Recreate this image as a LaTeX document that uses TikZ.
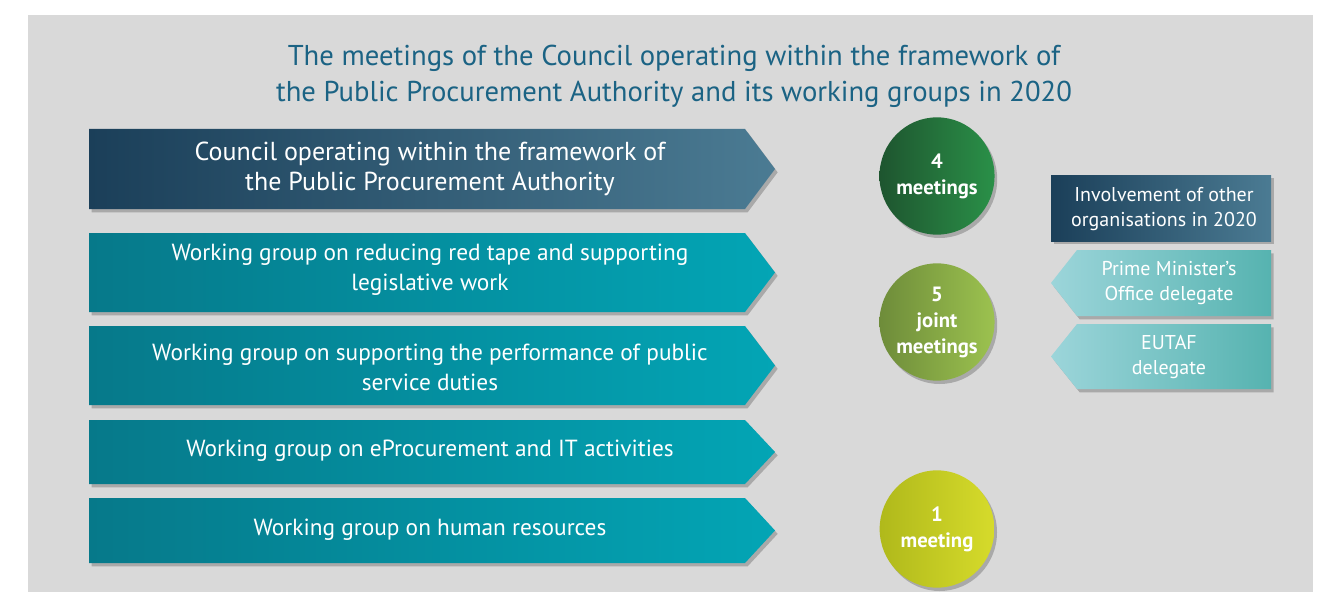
\documentclass[tikz,border=0pt]{standalone}
\usepackage{fontspec}
\setmainfont{PT Sans}
\usetikzlibrary{shapes.geometric,shadows}

\definecolor{bggray}{HTML}{D9D9D9}
\definecolor{titleblue}{HTML}{1B6384}
\definecolor{councilL}{HTML}{1B3F59}
\definecolor{councilR}{HTML}{4B7B93}
\definecolor{groupL}{HTML}{06798A}
\definecolor{groupR}{HTML}{03A5B5}
\definecolor{fourL}{HTML}{1E552F}
\definecolor{fourR}{HTML}{2A9048}
\definecolor{fiveL}{HTML}{6E8C3A}
\definecolor{fiveR}{HTML}{9CC24F}
\definecolor{oneL}{HTML}{B0B91B}
\definecolor{oneR}{HTML}{D6DB2B}
\definecolor{delegL}{HTML}{9CD5DA}
\definecolor{delegR}{HTML}{56B3B0}

\tikzset{
  softshadow/.style={drop shadow={shadow xshift=2pt,shadow yshift=-2.5pt,opacity=0.22,fill=black}},
  grouptext/.style={text=white,align=center,font=\fontsize{17.5}{22.5}\selectfont},
  meetball/.style={ellipse,minimum width=86pt,minimum height=88pt,inner sep=0pt,
    text=white,align=center,font=\bfseries\fontsize{15.5}{19.5}\selectfont,softshadow},
  sidetext/.style={text=white,align=center,font=\fontsize{15}{19}\selectfont}
}

\begin{document}
\begin{tikzpicture}[x=0.75pt,y=-0.75pt]

  % --- page and background ---
  \useasboundingbox (0,0) rectangle (1325,592);
  \fill[white] (0,0) rectangle (1325,592);
  \fill[bggray] (28,15) rectangle (1313,592);

  % --- title ---
  \node[text=titleblue,align=center,font=\fontsize{21.5}{27}\selectfont] (title) at (674,76)
    {The meetings of the Council operating within the framework of\\
     the Public Procurement Authority and its working groups in 2020};

  % --- council ---
  \path[softshadow,left color=councilL,right color=councilR]
    (89,129) -- (745,129) -- (775,169) -- (745,209) -- (89,209) -- cycle;
  \node[grouptext,font=\fontsize{19.5}{23}\selectfont] (council) at (430,169)
    {Council operating within the framework of\\the Public Procurement Authority};

  % --- working groups ---
  \path[softshadow,left color=groupL,right color=groupR]
    (89,233) -- (745,233) -- (775,272.5) -- (745,312) -- (89,312) -- cycle;
  \node[grouptext] (redtape) at (430,270)
    {Working group on reducing red tape and supporting\\legislative work};

  \path[softshadow,left color=groupL,right color=groupR]
    (89,326) -- (745,326) -- (775,365.5) -- (745,405) -- (89,405) -- cycle;
  \node[grouptext] (duties) at (430,367)
    {Working group on supporting the performance of public\\service duties};

  \path[softshadow,left color=groupL,right color=groupR]
    (89,420) -- (745,420) -- (775,452) -- (745,484) -- (89,484) -- cycle;
  \node[grouptext] (eproc) at (430,451)
    {Working group on eProcurement and IT activities};

  \path[softshadow,left color=groupL,right color=groupR]
    (89,498) -- (745,498) -- (775,530.5) -- (745,563) -- (89,563) -- cycle;
  \node[grouptext] (hr) at (430,530)
    {Working group on human resources};

  % --- number of meetings ---
  \node[meetball,left color=fourL,right color=fourR] (meet4) at (937,176) {4\\meetings};
  \node[meetball,left color=fiveL,right color=fiveR] (meet5) at (937,322) {5\\joint\\meetings};
  \node[meetball,left color=oneL,right color=oneR] (meet1) at (937,529) {1\\meeting};

  % --- other organisations ---
  \path[softshadow,left color=councilL,right color=councilR]
    (1051,175) rectangle (1271,241);
  \node[sidetext] (involve) at (1164,209)
    {Involvement of other\\organisations in 2020};

  \path[softshadow,left color=delegL,right color=delegR]
    (1051,283) -- (1077,250) -- (1271,250) -- (1271,316) -- (1077,316) -- cycle;
  \node[sidetext] (pmo) at (1169,283) {Prime Minister’s\\Office delegate};

  \path[softshadow,left color=delegL,right color=delegR]
    (1051,356.5) -- (1077,324) -- (1271,324) -- (1271,389) -- (1077,389) -- cycle;
  \node[sidetext] (eutaf) at (1169,357) {EUTAF\\delegate};

\end{tikzpicture}
\end{document}
